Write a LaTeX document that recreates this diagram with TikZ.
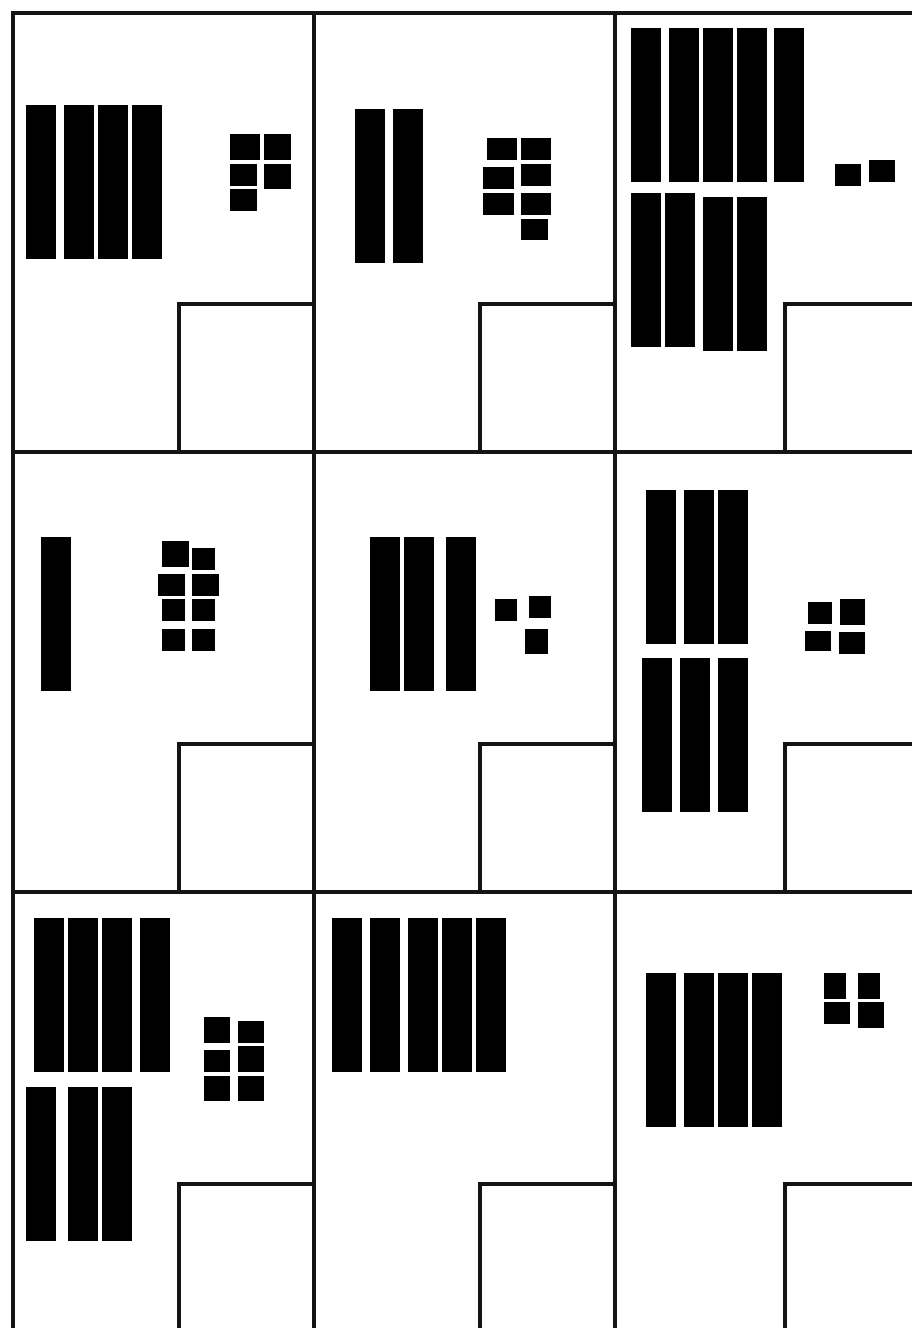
\documentclass[tikz,border=0pt]{standalone}
\usepackage{xcolor}
\usepackage{tikz}
\usetikzlibrary{positioning}
\definecolor{framecolor}{RGB}{20, 20, 20}

% base-ten blocks: a rod is a ten, a cube is a one
\tikzset{gridline/.style={line width=4.5pt,draw=framecolor,line join=miter},
  tenrod/.style={fill=black},
  onecube/.style={fill=black}}
\newcommand{\tenrodat}[2]{\fill[tenrod] (#1,#2) rectangle ++(30,154);}
\newcommand{\onecubeat}[4]{\fill[onecube] (#1,#2) rectangle (#3,#4);}

\begin{document}
\begin{tikzpicture}[x=1pt,y=-1pt]
\useasboundingbox (0,0) rectangle (912,1328);
% frame of the nine cells
\draw[gridline] (13,1328) -- (13,13) -- (912,13);
\foreach \cx in {314,615} {\draw[gridline] (\cx,13) -- (\cx,1328);}
\foreach \cy in {452,892} {\draw[gridline] (13,\cy) -- (912,\cy);}
% answer boxes
\foreach \bx/\cr in {179/314,480/615,785/912}
  \foreach \by/\cb in {304/452,744/892,1184/1328}
    {\draw[gridline] (\bx,\cb) |- (\cr,\by);}
% row 1
\foreach \rx in {26,64,98,132} {\tenrodat{\rx}{105}}
\onecubeat{230}{134}{260}{160} \onecubeat{264}{134}{291}{160}
\onecubeat{230}{164}{257}{186} \onecubeat{264}{164}{291}{189}
\onecubeat{230}{189}{257}{211}
\foreach \rx in {355,393} {\tenrodat{\rx}{109}}
\onecubeat{487}{138}{517}{160} \onecubeat{521}{138}{551}{160}
\onecubeat{483}{167}{514}{189} \onecubeat{521}{164}{551}{186}
\onecubeat{483}{193}{514}{215} \onecubeat{521}{193}{551}{215}
\onecubeat{521}{219}{548}{240}
\foreach \rx in {631,669,703,737,774} {\tenrodat{\rx}{28}}
\foreach \rx/\ry in {631/193,665/193,703/197,737/197} {\tenrodat{\rx}{\ry}}
\onecubeat{835}{164}{861}{186} \onecubeat{869}{160}{895}{182}
% row 2
\tenrodat{41}{537}
\onecubeat{162}{541}{189}{567} \onecubeat{192}{548}{215}{570}
\onecubeat{158}{574}{185}{596} \onecubeat{192}{574}{219}{596}
\onecubeat{162}{599}{185}{621} \onecubeat{192}{599}{215}{621}
\onecubeat{162}{629}{185}{651} \onecubeat{192}{629}{215}{651}
\foreach \rx in {370,404,446} {\tenrodat{\rx}{537}}
\onecubeat{495}{599}{517}{621} \onecubeat{529}{596}{551}{618}
\onecubeat{525}{629}{548}{654}
\foreach \rx in {646,684,718} {\tenrodat{\rx}{490}}
\foreach \rx in {642,680,718} {\tenrodat{\rx}{658}}
\onecubeat{808}{602}{832}{624} \onecubeat{840}{599}{865}{625}
\onecubeat{805}{631}{831}{651} \onecubeat{839}{632}{865}{654}
% row 3
\foreach \rx in {34,68,102,140} {\tenrodat{\rx}{918}}
\foreach \rx in {26,68,102} {\tenrodat{\rx}{1087}}
\onecubeat{204}{1017}{230}{1043} \onecubeat{238}{1021}{264}{1043}
\onecubeat{204}{1050}{230}{1072} \onecubeat{238}{1046}{264}{1072}
\onecubeat{204}{1076}{230}{1101} \onecubeat{238}{1076}{264}{1101}
\foreach \rx in {332,370,408,442,476} {\tenrodat{\rx}{918}}
\foreach \rx in {646,684,718,752} {\tenrodat{\rx}{973}}
\onecubeat{824}{973}{846}{999} \onecubeat{858}{973}{880}{999}
\onecubeat{824}{1002}{850}{1024} \onecubeat{858}{1002}{884}{1028}
\end{tikzpicture}
\end{document}
